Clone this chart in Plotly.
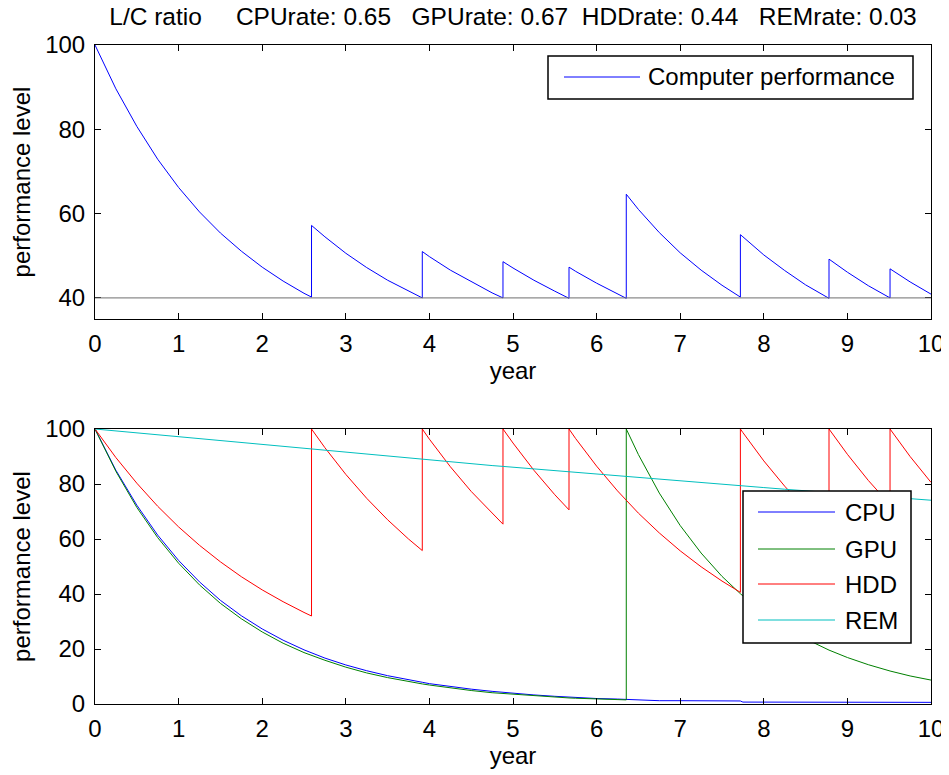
"""L/C ratio simulation plot (Plotly) - computer performance and component levels"""

import plotly.graph_objects as go
from plotly.subplots import make_subplots

# sample times (reset instants appear twice: value before / after replacement)
year = [0, 0.25, 0.5, 0.75, 1.0, 1.25, 1.5, 1.75, 2.0, 2.25, 2.5, 2.59, 2.59,
        2.75, 3.0, 3.25, 3.5, 3.75, 3.915, 3.915, 4.0, 4.25, 4.5, 4.75, 4.88, 4.88,
        5.0, 5.25, 5.5, 5.67, 5.67, 5.75, 6.0, 6.25, 6.355, 6.355, 6.5, 6.75,
        7.0, 7.25, 7.5, 7.72, 7.72, 7.75, 8.0, 8.25, 8.5, 8.78, 8.78, 9.0, 9.25,
        9.51, 9.51, 9.75, 10.0]

computer = [100, 89.6, 80.7, 72.9, 66.2, 60.4, 55.4, 51.1, 47.3, 44.0, 41.1, 40.2, 57.2,
            54.5, 50.6, 47.2, 44.2, 41.6, 40.0, 51.0, 49.8, 46.6, 43.8, 41.2, 40.0, 48.6,
            47.1, 44.2, 41.6, 39.9, 47.3, 46.3, 43.5, 40.9, 39.9, 64.6, 61.0, 55.5,
            50.7, 46.6, 43.0, 40.2, 55.0, 54.5, 50.2, 46.5, 43.1, 39.9, 49.2, 46.1, 42.9,
            40.0, 46.9, 43.8, 40.9]

cpu = [100, 85.0, 72.3, 61.4, 52.2, 44.4, 37.7, 32.1, 27.3, 23.2, 19.7, 18.6, 18.6,
       16.7, 14.2, 12.1, 10.3, 8.7, 7.9, 7.9, 7.4, 6.3, 5.4, 4.6, 4.2, 4.2,
       3.9, 3.3, 2.8, 2.5, 2.5, 2.4, 2.0, 1.8, 1.7, 1.7, 1.3, 1.2,
       1.2, 1.2, 1.1, 1.1, 1.1, 0.7, 0.7, 0.6, 0.6, 0.6, 0.6, 0.6, 0.6,
       0.6, 0.6, 0.6, 0.6]

gpu = [100, 84.6, 71.5, 60.5, 51.2, 43.3, 36.6, 31.0, 26.2, 22.1, 18.7, 17.6, 17.6,
       15.9, 13.4, 11.3, 9.6, 8.1, 7.3, 7.3, 6.9, 5.8, 4.9, 4.1, 3.8, 3.8,
       3.5, 3.0, 2.5, 2.2, 2.2, 2.1, 1.8, 1.6, 1.5, 100, 90.7, 76.7,
       64.9, 54.9, 46.4, 40.1, 40.1, 39.3, 33.2, 28.0, 23.7, 19.6, 19.6, 16.9, 14.3,
       12.0, 12.0, 10.2, 8.7]

hdd = [100, 89.6, 80.3, 71.9, 64.4, 57.7, 51.7, 46.3, 41.5, 37.2, 33.3, 32.0, 100,
       93.2, 83.5, 74.8, 67.0, 60.0, 55.8, 100, 96.3, 86.3, 77.3, 69.3, 65.4, 100,
       94.9, 85.0, 76.1, 70.6, 100, 96.5, 86.5, 77.5, 74.0, 74.0, 69.4, 62.2,
       55.7, 49.9, 44.7, 40.6, 100, 98.7, 88.4, 79.2, 70.9, 62.7, 100, 90.8, 81.3,
       72.5, 100, 90.0, 80.6]

rem = [100, 99.3, 98.5, 97.8, 97.0, 96.3, 95.6, 94.9, 94.2, 93.5, 92.8, 92.5, 92.5,
       92.1, 91.4, 90.7, 90.0, 89.4, 88.9, 88.9, 88.7, 88.0, 87.4, 86.7, 86.4, 86.4,
       86.1, 85.4, 84.8, 84.3, 84.3, 84.1, 83.5, 82.9, 82.6, 82.6, 82.3, 81.7,
       81.1, 80.5, 79.9, 79.3, 79.3, 79.3, 78.7, 78.1, 77.5, 76.8, 76.8, 76.3, 75.8,
       75.2, 75.2, 74.6, 74.1]

threshold = 40

COLORS = {
    'Computer performance': '#0000FF',
    'CPU': '#0000FF',
    'GPU': '#008000',
    'HDD': '#FF0000',
    'REM': '#00BFBF',
}

FONT = 'Liberation Sans, Arial, sans-serif'
FS = 24
# page body has an 8px margin, so the figure is drawn 8px smaller and offset
OFF = 8
W, H = 949 - OFF, 775 - OFF
L, R, T, B = 95 - OFF, 949 - 931, 45 - OFF, 775 - 704


def px_x(x):
    # x in reference screen pixels -> paper fraction
    return (x - OFF - L) / (W - L - R)


def px_y(y):
    return (H - B - (y - OFF)) / (H - T - B)


fig = make_subplots(rows=2, cols=1)

fig.add_trace(go.Scatter(x=year, y=computer, mode='lines', name='Computer performance',
                         line=dict(color=COLORS['Computer performance'], width=1)), row=1, col=1)
fig.add_hline(y=threshold, line=dict(color='#6e6e6e', width=1), row=1, col=1)

for name, vals in [('CPU', cpu), ('GPU', gpu), ('HDD', hdd), ('REM', rem)]:
    fig.add_trace(go.Scatter(x=year, y=vals, mode='lines', name=name,
                             line=dict(color=COLORS[name], width=1)), row=2, col=1)

axis_style = dict(showline=True, linecolor='black', linewidth=1, mirror='allticks',
                  ticks='inside', ticklen=6, tickcolor='black', showgrid=False,
                  zeroline=False, automargin=False,
                  tickfont=dict(size=FS, color='black', family=FONT))

fig.update_xaxes(range=[0, 10], dtick=1, ticklabelstandoff=3, **axis_style)
fig.update_xaxes(title=dict(text='year', font=dict(size=FS, family=FONT), standoff=0))
fig.update_yaxes(ticklabelstandoff=4, **axis_style)
fig.update_yaxes(title=dict(text='performance level', font=dict(size=FS, family=FONT), standoff=10))
fig.update_layout(
    yaxis=dict(domain=[px_y(319), 1], range=[35, 100], tickvals=[40, 60, 80, 100]),
    yaxis2=dict(domain=[0, px_y(429)], range=[0, 100], dtick=20),
)


# legends drawn by hand (MATLAB style long line samples)
def legend_box(x0, y0, x1, y1):
    fig.add_shape(type='rect', xref='paper', yref='paper', layer='above',
                  x0=px_x(x0), x1=px_x(x1), y0=px_y(y0), y1=px_y(y1),
                  line=dict(color='black', width=1.5), fillcolor='white')


def legend_item(name, y, lx0, lx1, tx):
    fig.add_shape(type='line', xref='paper', yref='paper', layer='above',
                  x0=px_x(lx0), x1=px_x(lx1), y0=px_y(y), y1=px_y(y),
                  line=dict(color=COLORS[name], width=1))
    fig.add_annotation(text=name, xref='paper', yref='paper', x=px_x(tx), y=px_y(y),
                       xanchor='left', yanchor='middle', showarrow=False,
                       font=dict(size=FS, family=FONT, color='black'))


legend_box(548, 56, 913, 99)
legend_item('Computer performance', 77, 564, 640, 646)

legend_box(743, 491, 911, 643)
for name, y in [('CPU', 512), ('GPU', 549), ('HDD', 584), ('REM', 620)]:
    legend_item(name, y, 758, 835, 843)

fig.update_layout(
    width=W, height=H,
    margin=dict(l=L, r=R, t=T, b=B),
    paper_bgcolor='white', plot_bgcolor='white',
    showlegend=False,
    font=dict(family=FONT, size=FS, color='black'),
    title=dict(text='L/C ratio     CPUrate: 0.65   GPUrate: 0.67  HDDrate: 0.44   REMrate: 0.03',
               xref='paper', x=0.5, xanchor='center', y=1, yanchor='top',
               font=dict(size=24.5, family=FONT, color='black')),
)

fig.write_html("out.html")
